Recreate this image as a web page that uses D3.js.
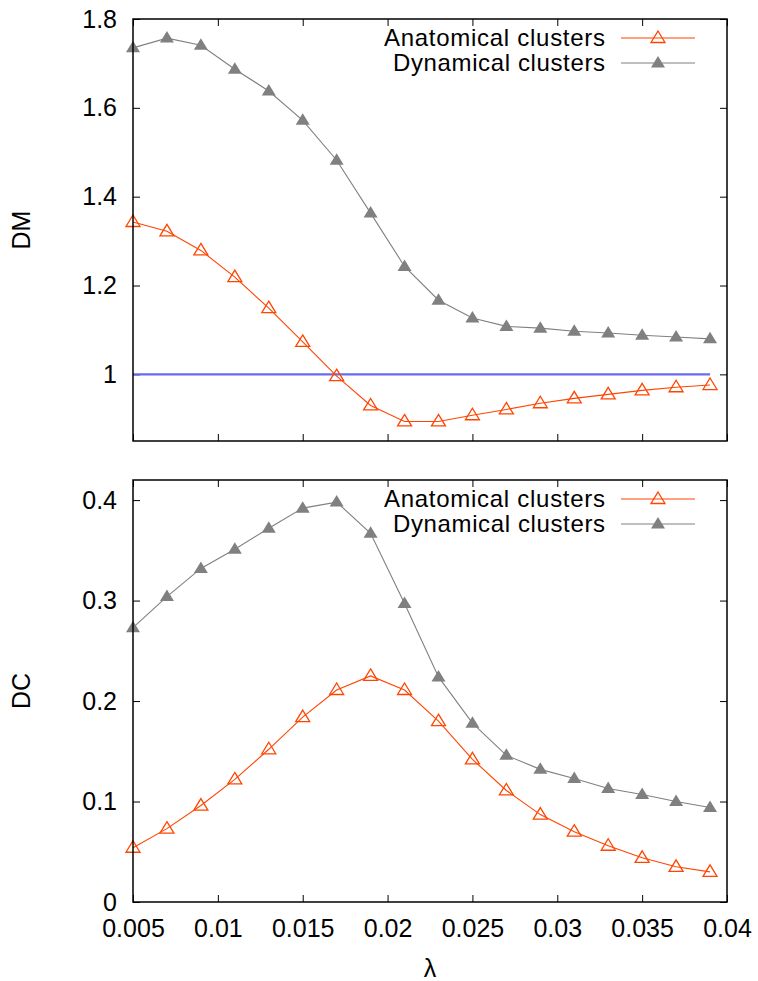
<!DOCTYPE html>
<html>
<head>
<meta charset="utf-8">
<script src="https://cdn.jsdelivr.net/npm/d3@7"></script>
<style>
  body { margin: 0; background: #fff; }
  text { font-family: "Liberation Sans", Arial, sans-serif; }
</style>
</head>
<body>
<div id="chart"></div>
<script>
const lambda = [0.005, 0.007, 0.009, 0.011, 0.013, 0.015, 0.017, 0.019, 0.021,
                0.023, 0.025, 0.027, 0.029, 0.031, 0.033, 0.035, 0.037, 0.039];

// DM panel
const dmAnatomical = [1.343, 1.322, 1.279, 1.219, 1.149, 1.073, 0.996, 0.930, 0.894,
                      0.894, 0.908, 0.921, 0.935, 0.946, 0.955, 0.964, 0.971, 0.976];
const dmDynamical = [1.735, 1.757, 1.741, 1.687, 1.638, 1.572, 1.482, 1.363, 1.243,
                     1.167, 1.127, 1.108, 1.104, 1.097, 1.093, 1.088, 1.084, 1.080];
const dmReference = lambda.map(() => 1); // y = 1 line

// DC panel
const dcAnatomical = [0.054, 0.073, 0.096, 0.122, 0.152, 0.184, 0.211, 0.225, 0.211,
                      0.180, 0.142, 0.111, 0.087, 0.070, 0.056, 0.044, 0.035, 0.030];
const dcDynamical = [0.273, 0.304, 0.332, 0.351, 0.372, 0.392, 0.398, 0.367, 0.297,
                     0.224, 0.178, 0.146, 0.132, 0.123, 0.113, 0.107, 0.100, 0.094];

const xTicks = [0.005, 0.01, 0.015, 0.02, 0.025, 0.03, 0.035, 0.04];
const dmTicks = [1, 1.2, 1.4, 1.6, 1.8];
const dcTicks = [0, 0.1, 0.2, 0.3, 0.4];
const seriesNames = ["Anatomical clusters", "Dynamical clusters"];

const width = 758, height = 981;
const left = 133, right = 727;
const orange = "#ff4500", gray = "#808080", blue = "#6a6af0";

const svg = d3.select("#chart")
  .append("svg")
  .attr("width", width)
  .attr("height", height);

const x = d3.scaleLinear()
  .domain([0.005, 0.04])
  .range([left, right]);

// triangle marker, apex up
const tri = "M0,-7L7,4.5L-7,4.5Z";

function panel(top, bottom, yDomain, yTicks, yLabel, series, showX, refLine) {
  const y = d3.scaleLinear().domain(yDomain).range([bottom, top]);
  const g = svg.append("g");

  // ticks, mirrored on all four sides
  g.append("g")
    .attr("transform", `translate(${left},0)`)
    .call(d3.axisLeft(y).tickValues(yTicks).tickSize(-7).tickPadding(16)
      .tickFormat(d => d3.format("~g")(d)))
    .call(a => a.select(".domain").remove())
    .call(a => a.selectAll("text").attr("font-size", 25).attr("fill", "#000")
      .attr("font-family", "Liberation Sans, Arial, sans-serif"));
  g.append("g")
    .attr("transform", `translate(${right},0)`)
    .call(d3.axisRight(y).tickValues(yTicks).tickSize(-7).tickFormat(""))
    .call(a => a.select(".domain").remove());
  g.append("g")
    .attr("transform", `translate(0,${bottom})`)
    .call(d3.axisBottom(x).tickValues(xTicks).tickSize(-7).tickPadding(17)
      .tickFormat(showX ? (d => d3.format("~g")(d)) : ""))
    .call(a => a.select(".domain").remove())
    .call(a => a.selectAll("text").attr("font-size", 25).attr("fill", "#000")
      .attr("font-family", "Liberation Sans, Arial, sans-serif"));
  g.append("g")
    .attr("transform", `translate(0,${top})`)
    .call(d3.axisTop(x).tickValues(xTicks).tickSize(-7).tickFormat(""))
    .call(a => a.select(".domain").remove());
  g.selectAll(".tick line").attr("stroke", "#000").attr("stroke-width", 1);

  if (refLine) {
    g.append("path")
      .datum(lambda.map((d, i) => [d, refLine[i]]))
      .attr("fill", "none")
      .attr("stroke", blue)
      .attr("stroke-width", 2.2)
      .attr("d", d3.line().x(d => x(d[0])).y(d => y(d[1])));
  }

  const line = d3.line().x(d => x(d[0])).y(d => y(d[1]));
  series.forEach(s => {
    const pts = lambda.map((d, i) => [d, s.values[i]]);
    g.append("path")
      .datum(pts)
      .attr("fill", "none")
      .attr("stroke", s.color)
      .attr("stroke-width", 1.1)
      .attr("d", line);
    g.selectAll(null)
      .data(pts)
      .join("path")
      .attr("d", tri)
      .attr("transform", d => `translate(${x(d[0])},${y(d[1])})`)
      .attr("fill", s.filled ? s.color : "none")
      .attr("stroke", s.color)
      .attr("stroke-width", s.filled ? 0 : 1.3);
  });

  // frame
  g.append("rect")
    .attr("x", left).attr("y", top)
    .attr("width", right - left).attr("height", bottom - top)
    .attr("fill", "none")
    .attr("stroke", "#000")
    .attr("stroke-width", 1.5);

  // legend
  series.forEach((s, i) => {
    const ly = top + 19 + i * 25;
    g.append("text")
      .attr("x", 605).attr("y", ly)
      .attr("dy", "0.35em")
      .attr("text-anchor", "end")
      .attr("font-size", 24)
      .attr("textLength", i === 0 ? 221 : 212)
      .text(s.name);
    g.append("line")
      .attr("x1", 621).attr("x2", 695)
      .attr("y1", ly).attr("y2", ly)
      .attr("stroke", s.color)
      .attr("stroke-width", 1.1);
    g.append("path")
      .attr("d", tri)
      .attr("transform", `translate(658,${ly})`)
      .attr("fill", s.filled ? s.color : "none")
      .attr("stroke", s.color)
      .attr("stroke-width", s.filled ? 0 : 1.3);
  });

  svg.append("text")
    .attr("transform", `translate(30,${(top + bottom) / 2}) rotate(-90)`)
    .attr("text-anchor", "middle")
    .attr("font-size", 25)
    .text(yLabel);
}

panel(19, 441, [0.85, 1.8], dmTicks, "DM", [
  { name: seriesNames[0], values: dmAnatomical, color: orange, filled: false },
  { name: seriesNames[1], values: dmDynamical, color: gray, filled: true }
], false, dmReference);

panel(480, 902, [0, 0.42], dcTicks, "DC", [
  { name: seriesNames[0], values: dcAnatomical, color: orange, filled: false },
  { name: seriesNames[1], values: dcDynamical, color: gray, filled: true }
], true, null);

svg.append("text")
  .attr("x", (left + right) / 2)
  .attr("y", 968)
  .attr("dy", "0.35em")
  .attr("text-anchor", "middle")
  .attr("font-size", 25)
  .text("λ");
</script>
</body>
</html>
